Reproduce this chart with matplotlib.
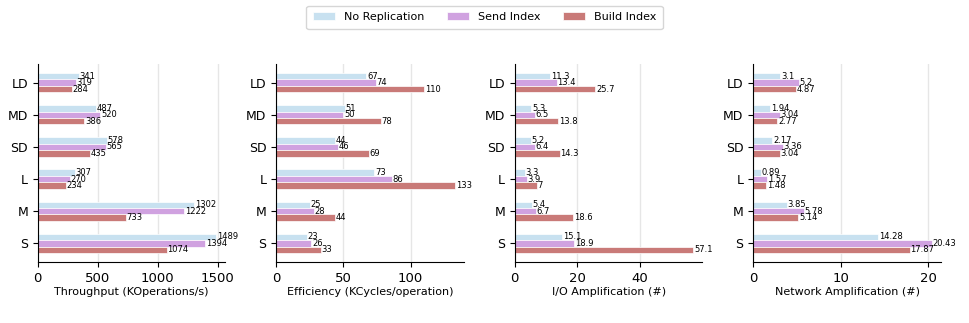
import numpy as np
import matplotlib
matplotlib.use("Agg")
import matplotlib.pyplot as plt

# workloads, top to bottom in the picture
workloads = ["LD", "MD", "SD", "L", "M", "S"]
series = ["No Replication", "Send Index", "Build Index"]
colors = ["#c8e1f0", "#d0a2e0", "#c97a78"]

throughput = [[341, 487, 578, 307, 1302, 1489],
              [319, 520, 565, 270, 1222, 1394],
              [284, 386, 435, 234, 733, 1074]]
efficiency = [[67, 51, 44, 73, 25, 23],
              [74, 50, 46, 86, 28, 26],
              [110, 78, 69, 133, 44, 33]]
io_amp = [[11.3, 5.3, 5.2, 3.3, 5.4, 15.1],
          [13.4, 6.5, 6.4, 3.9, 6.7, 18.9],
          [25.7, 13.8, 14.3, 7, 18.6, 57.1]]
net_amp = [[3.1, 1.94, 2.17, 0.89, 3.85, 14.28],
           [5.2, 3.04, 3.36, 1.57, 5.78, 20.43],
           [4.87, 2.77, 3.04, 1.48, 5.14, 17.87]]

panels = [(throughput, "Throughput (KOperations/s)"),
          (efficiency, "Efficiency (KCycles/operation)"),
          (io_amp, "I/O Amplification (#)"),
          (net_amp, "Network Amplification (#)")]

fig, axes = plt.subplots(1, 4, figsize=(9.69, 3.23), dpi=100)
fig.subplots_adjust(left=0.039, right=0.971, top=0.802, bottom=0.189, wspace=0.271)

y = np.arange(len(workloads))[::-1]
h = 0.2

for ax, (data, label) in zip(axes, panels):
    for i, (vals, name, c) in enumerate(zip(data, series, colors)):
        bars = ax.barh(y + (1 - i) * h, vals, height=h, color=c, label=name,
                       edgecolor="white", linewidth=0.5, zorder=2)
        ax.bar_label(bars, labels=[f"{v:g}" for v in vals], fontsize=6, padding=0.5)
    ax.set_yticks(y)
    ax.set_yticklabels(workloads, fontsize=9)
    ax.tick_params(axis="x", labelsize=9.5)
    ax.set_xlabel(label, fontsize=8, labelpad=2)
    ax.grid(axis="x", color="#e6e6e6", linewidth=1, zorder=0)
    ax.set_axisbelow(True)
    ax.spines["top"].set_visible(False)
    ax.spines["right"].set_visible(False)

handles, labels = axes[0].get_legend_handles_labels()
fig.legend(handles, labels, loc="upper center", bbox_to_anchor=(0.5, 1.0),
           ncol=3, fontsize=8, borderpad=0.6)

fig.savefig("out.png", dpi=100)
